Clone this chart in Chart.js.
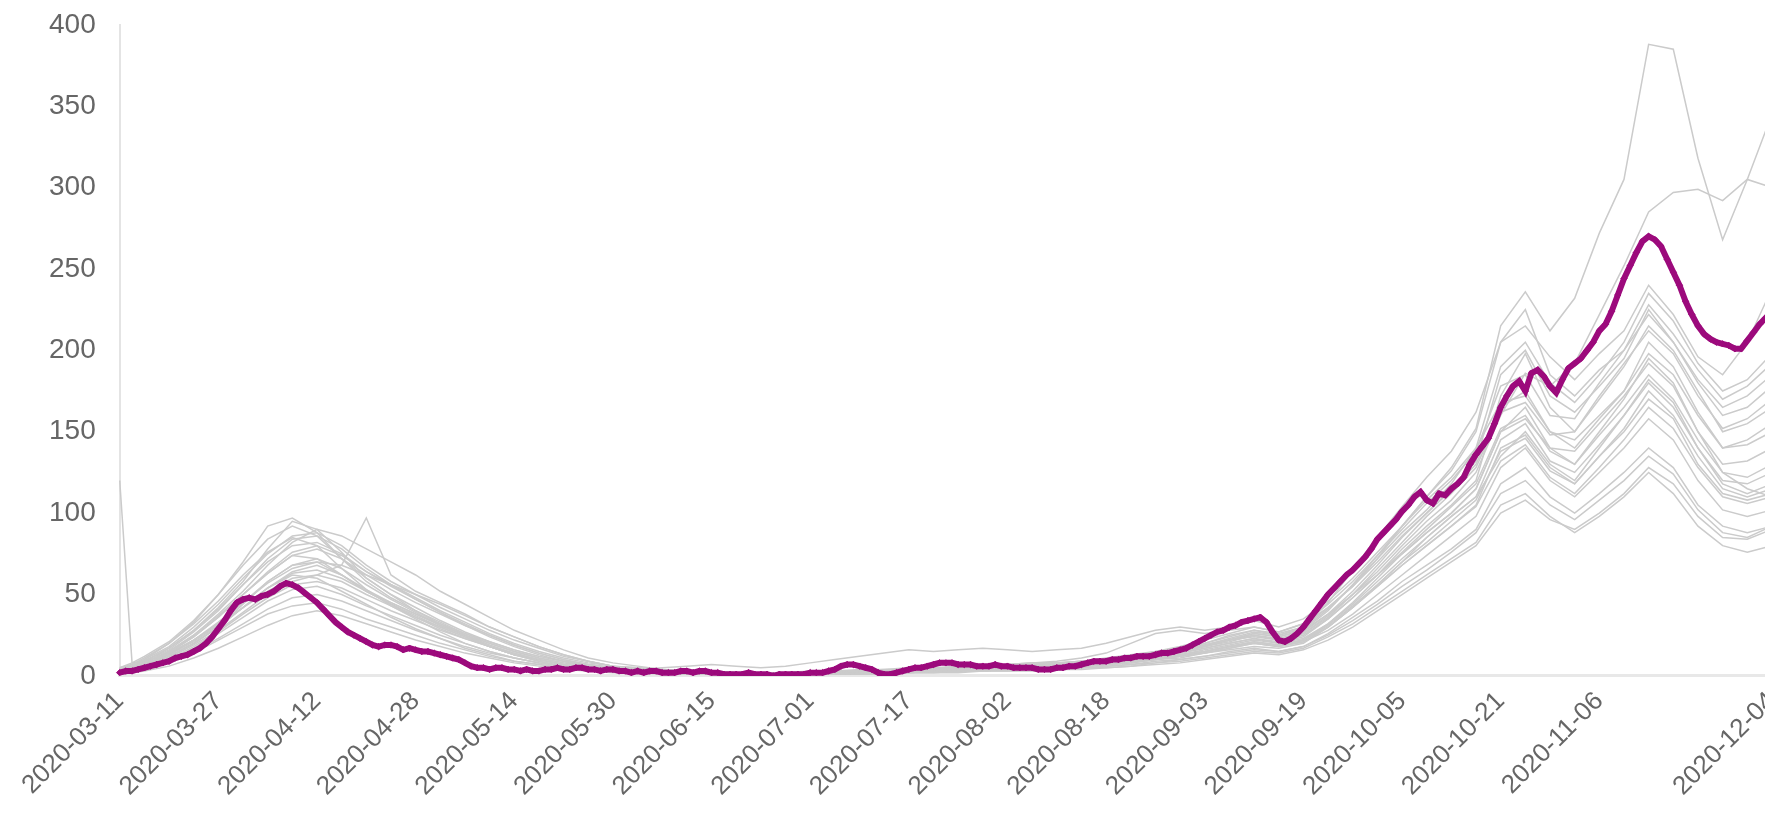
<!DOCTYPE html>
<html>
<head>
<meta charset="utf-8">
<script src="https://cdn.jsdelivr.net/npm/chart.js@4/dist/chart.umd.min.js"></script>
<style>
  html, body { margin: 0; padding: 0; background: #ffffff; overflow: hidden; }
  body { width: 1765px; height: 826px; position: relative; }
  #wrap { position: absolute; left: 10px; top: -16px; width: 1794px; height: 834px; }
</style>
</head>
<body>
<div id="wrap"><canvas id="c"></canvas></div>
<script>
// ---- categories (daily dates) ----
const startDate = '2020-03-11';
const dayCount = 269; // 2020-03-11 .. 2020-12-04
const tickLabels = ['2020-03-11','2020-03-27','2020-04-12','2020-04-28','2020-05-14','2020-05-30',
  '2020-06-15','2020-07-01','2020-07-17','2020-08-02','2020-08-18','2020-09-03','2020-09-19',
  '2020-10-05','2020-10-21','2020-11-06','2020-12-04'];

// ---- highlighted series (daily) ----
const highlight = [
  2, 3, 3, 4, 5, 6, 7, 8, 9, 11,
  12, 13, 15, 17, 20, 24, 29, 34, 40, 45,
  47, 48, 47, 49, 50, 52, 55, 57, 56, 54,
  51, 48, 45, 41, 37, 33, 30, 27, 25, 23,
  21, 19, 18, 19, 19, 18, 16, 17, 16, 15,
  15, 14, 13, 12, 11, 10, 8, 6, 5, 5,
  4, 5, 5, 4, 4, 3, 4, 3, 3, 4,
  4, 5, 4, 4, 5, 5, 4, 4, 3, 4,
  4, 3, 3, 2, 3, 2, 3, 3, 2, 2,
  2, 3, 3, 2, 3, 3, 2, 2, 1, 1,
  1, 1, 2, 1, 1, 1, 0, 1, 1, 1,
  1, 1, 2, 2, 2, 3, 4, 6, 7, 7,
  6, 5, 4, 2, 1, 1, 2, 3, 4, 5,
  5, 6, 7, 8, 8, 8, 7, 7, 7, 6,
  6, 6, 7, 6, 6, 5, 5, 5, 5, 4,
  4, 4, 5, 5, 6, 6, 7, 8, 9, 9,
  9, 10, 10, 11, 11, 12, 12, 12, 13, 14,
  14, 15, 16, 17, 19, 21, 23, 25, 27, 28,
  30, 31, 33, 34, 35, 36, 33, 27, 22, 21,
  23, 26, 30, 35, 40, 45, 50, 54, 58, 62,
  65, 69, 73, 78, 84, 88, 92, 96, 101, 105,
  110, 113, 108, 106, 112, 111, 115, 118, 122, 130,
  136, 141, 146, 155, 165, 172, 178, 181, 175, 186,
  188, 184, 178, 174, 182, 189, 192, 195, 200, 205,
  212, 216, 224, 234, 244, 252, 260, 267, 270, 268,
  264, 256, 248, 240, 230, 222, 215, 210, 207, 205,
  204, 203, 201, 201, 206, 211, 216, 220, 224
];

// ---- grey series: sampled on these day offsets ----
const greyDays = [0, 2, 4, 8, 12, 16, 20, 24, 28, 32, 36, 40, 44, 48, 52, 56, 60, 64, 68, 72, 76, 80,
  84, 88, 92, 96, 100, 104, 108, 112, 116, 120, 124, 128, 132, 136, 140, 144, 148, 152, 156, 160,
  164, 168, 172, 176, 180, 184, 188, 192, 196, 200, 204, 208, 212, 216, 220, 224, 228, 232, 236, 240,
  244, 248, 252, 256, 260, 264, 268];

const s01 = [3, 5,
  8, 15, 24, 36, 50, 63, 74, 72, 62, 52,
  44, 37, 30, 24, 18, 13, 10, 7, 5, 4,
  3, 3, 2, 2, 2, 1, 2, 2, 1, 2,
  3, 4, 4, 5, 5, 6, 6, 7, 8, 10,
  12, 14, 17, 20, 24, 28, 26, 30, 42, 55,
  72, 92, 110, 128, 152, 215, 236, 212, 232, 272,
  305, 388, 385, 318, 268, 305, 345];
const s02 = [2, 4,
  6, 12, 20, 30, 42, 54, 62, 60, 52, 44,
  36, 29, 23, 17, 13, 9, 7, 5, 4, 3,
  3, 2, 2, 1, 1, 1, 2, 2, 2, 3,
  3, 4, 4, 5, 5, 6, 7, 8, 9, 10,
  12, 14, 16, 19, 22, 24, 22, 26, 37, 50,
  64, 80, 95, 108, 125, 160, 186, 178, 192, 222,
  252, 285, 297, 299, 292, 305, 300];
const s03 = [5, 7,
  10, 20, 32, 46, 62, 76, 85, 80, 66, 53,
  43, 35, 27, 20, 15, 11, 8, 6, 4, 3,
  3, 2, 2, 2, 1, 2, 2, 2, 3, 3,
  3, 4, 4, 5, 5, 6, 6, 7, 8, 10,
  12, 15, 17, 20, 25, 28, 25, 30, 45, 65,
  85, 104, 122, 138, 162, 205, 215, 196, 182, 198,
  212, 240, 222, 196, 185, 205, 238];
const s04 = [4, 6,
  9, 17, 28, 42, 58, 78, 95, 90, 76, 60,
  50, 40, 32, 25, 18, 13, 9, 6, 4, 3,
  2, 2, 2, 1, 1, 1, 1, 2, 2, 3,
  2, 3, 3, 4, 4, 5, 6, 6, 7, 8,
  10, 12, 14, 17, 20, 23, 20, 24, 35, 48,
  62, 78, 92, 105, 120, 172, 198, 165, 150, 170,
  190, 215, 200, 175, 150, 155, 165];
const s05 = [3, 5,
  7, 14, 22, 32, 42, 52, 60, 62, 68, 97,
  62, 52, 45, 38, 30, 24, 18, 13, 9, 6,
  4, 3, 2, 2, 1, 1, 1, 1, 2, 2,
  2, 3, 3, 3, 4, 4, 5, 5, 6, 7,
  8, 10, 12, 14, 16, 18, 17, 20, 30, 42,
  56, 70, 85, 98, 110, 135, 150, 130, 120, 140,
  160, 180, 165, 140, 120, 118, 125];
const s06 = [120, 8,
  9, 14, 22, 32, 45, 58, 68, 70, 62, 52,
  44, 36, 30, 24, 18, 13, 9, 6, 4, 3,
  2, 2, 1, 1, 1, 1, 1, 2, 2, 2,
  2, 3, 3, 3, 4, 4, 5, 5, 6, 7,
  9, 11, 13, 15, 18, 20, 18, 22, 32, 45,
  60, 75, 88, 100, 115, 150, 165, 140, 130, 150,
  170, 195, 180, 150, 125, 115, 110];
const s07 = [4, 7,
  11, 20, 33, 50, 70, 92, 97, 88, 72, 58,
  48, 40, 33, 26, 20, 15, 11, 8, 6, 4,
  3, 3, 2, 2, 2, 2, 1, 1, 2, 2,
  3, 3, 4, 4, 5, 5, 6, 6, 7, 8,
  10, 12, 15, 18, 22, 25, 23, 27, 38, 52,
  68, 85, 100, 115, 132, 185, 200, 172, 162, 178,
  195, 225, 205, 180, 160, 165, 178];
const s08 = [3, 5,
  8, 15, 25, 38, 52, 68, 82, 90, 86, 78,
  70, 62, 52, 44, 36, 28, 22, 16, 11, 8,
  6, 4, 3, 3, 2, 2, 2, 2, 3, 3,
  4, 4, 5, 5, 6, 7, 7, 8, 9, 10,
  12, 14, 16, 19, 22, 26, 24, 28, 38, 50,
  62, 75, 88, 100, 115, 150, 158, 140, 138, 155,
  172, 192, 178, 150, 130, 132, 140];
const s09 = [2, 4,
  7, 14, 24, 36, 50, 64, 76, 80, 74, 64,
  56, 48, 40, 33, 26, 20, 15, 11, 8, 6,
  4, 3, 3, 2, 2, 2, 1, 2, 2, 2,
  3, 3, 4, 4, 4, 5, 5, 6, 6, 7,
  9, 10, 12, 15, 18, 21, 19, 22, 30, 42,
  55, 68, 80, 92, 105, 140, 148, 128, 118, 135,
  150, 170, 158, 130, 112, 108, 112];
const s10 = [2, 3,
  6, 12, 20, 30, 44, 58, 68, 72, 66, 56,
  47, 39, 31, 25, 19, 14, 10, 7, 5, 4,
  3, 2, 2, 2, 1, 1, 1, 1, 2, 2,
  2, 3, 3, 3, 4, 4, 5, 5, 6, 7,
  8, 10, 11, 14, 17, 20, 18, 21, 28, 38,
  50, 62, 74, 86, 98, 128, 140, 120, 110, 125,
  140, 158, 145, 120, 102, 98, 102];
const s11 = [3, 4,
  7, 13, 21, 31, 42, 54, 63, 65, 60, 52,
  45, 38, 32, 26, 21, 16, 12, 9, 6, 5,
  4, 3, 2, 2, 2, 1, 2, 2, 2, 2,
  3, 3, 3, 4, 4, 5, 5, 6, 7, 8,
  9, 11, 13, 16, 19, 22, 20, 23, 32, 44,
  58, 72, 85, 98, 110, 145, 155, 132, 125, 142,
  160, 182, 168, 140, 118, 112, 118];
const s12 = [1, 3,
  5, 10, 17, 26, 36, 46, 53, 55, 50, 43,
  37, 31, 25, 20, 15, 11, 8, 6, 4, 3,
  2, 2, 2, 1, 1, 1, 1, 1, 1, 2,
  2, 2, 3, 3, 3, 4, 4, 5, 5, 6,
  7, 9, 10, 12, 15, 17, 15, 18, 26, 36,
  46, 58, 68, 78, 90, 118, 128, 110, 100, 112,
  125, 140, 128, 105, 92, 88, 92];
const s13 = [1, 2,
  4, 8, 14, 22, 30, 38, 43, 45, 41, 35,
  30, 25, 20, 16, 12, 9, 7, 5, 4, 3,
  2, 2, 1, 1, 1, 1, 1, 1, 1, 2,
  2, 2, 2, 3, 3, 3, 4, 4, 5, 5,
  6, 8, 9, 11, 13, 15, 14, 17, 24, 32,
  42, 52, 62, 72, 82, 105, 112, 98, 88, 98,
  110, 125, 112, 92, 80, 76, 80];
const s14 = [4, 6,
  10, 18, 30, 44, 60, 75, 86, 88, 80, 68,
  58, 50, 42, 35, 28, 22, 17, 12, 9, 6,
  5, 4, 3, 3, 2, 2, 2, 3, 3, 4,
  4, 5, 5, 6, 6, 7, 8, 8, 9, 11,
  13, 15, 18, 22, 26, 30, 27, 32, 44, 58,
  74, 90, 106, 120, 138, 178, 185, 160, 158, 180,
  200, 222, 205, 182, 165, 172, 185];
const s15 = [3, 5,
  8, 15, 25, 37, 50, 63, 74, 78, 72, 62,
  53, 45, 38, 31, 25, 19, 14, 10, 7, 5,
  4, 5, 6, 7, 6, 5, 6, 8, 10, 12,
  14, 16, 15, 16, 17, 16, 15, 16, 17, 20,
  24, 28, 30, 28, 30, 34, 30, 35, 46, 60,
  76, 92, 108, 122, 140, 168, 172, 150, 145, 160,
  175, 198, 185, 160, 140, 145, 155];
const s16 = [2, 4,
  6, 12, 20, 30, 42, 54, 64, 68, 62, 53,
  45, 38, 31, 25, 20, 15, 11, 8, 6, 4,
  3, 3, 2, 2, 2, 2, 2, 2, 3, 3,
  3, 4, 4, 5, 6, 7, 8, 9, 11, 14,
  20, 26, 28, 26, 28, 30, 27, 32, 42, 55,
  70, 86, 100, 114, 130, 165, 175, 150, 140, 158,
  175, 205, 190, 162, 140, 142, 150];
const s17 = [2, 3,
  5, 10, 18, 27, 38, 48, 56, 58, 54, 47,
  40, 34, 28, 23, 18, 14, 10, 7, 5, 4,
  3, 2, 2, 2, 1, 1, 1, 1, 2, 2,
  2, 3, 3, 3, 4, 4, 5, 5, 6, 7,
  8, 10, 12, 14, 17, 20, 18, 21, 30, 42,
  55, 68, 80, 92, 104, 132, 142, 122, 112, 128,
  145, 165, 152, 128, 110, 106, 110];
const s18 = [3, 6,
  9, 17, 28, 41, 56, 70, 80, 82, 75, 64,
  55, 47, 39, 32, 25, 19, 14, 10, 7, 5,
  4, 3, 3, 2, 2, 2, 2, 2, 3, 3,
  3, 4, 4, 5, 5, 6, 7, 7, 8, 9,
  11, 13, 15, 18, 21, 25, 22, 26, 36, 50,
  66, 82, 98, 112, 128, 162, 168, 148, 150, 172,
  192, 212, 198, 172, 152, 158, 170];
const s19 = [1, 2,
  3, 6, 11, 17, 24, 31, 37, 40, 37, 32,
  27, 22, 18, 14, 11, 8, 6, 4, 3, 2,
  2, 1, 1, 1, 1, 1, 1, 1, 1, 1,
  1, 2, 2, 2, 3, 3, 3, 4, 4, 5,
  6, 7, 8, 10, 12, 14, 13, 16, 22, 30,
  40, 50, 60, 70, 80, 100, 108, 96, 90, 100,
  112, 128, 118, 98, 85, 84, 90];
const s20 = [5, 8,
  12, 21, 34, 50, 68, 84, 92, 86, 72, 60,
  50, 42, 34, 27, 21, 16, 12, 9, 6, 5,
  4, 3, 2, 2, 2, 2, 2, 2, 2, 3,
  3, 3, 4, 4, 5, 5, 6, 7, 8, 9,
  11, 13, 15, 18, 22, 26, 24, 28, 40, 56,
  72, 88, 102, 118, 140, 190, 205, 180, 168, 185,
  205, 235, 218, 192, 175, 182, 198];
const s21 = [1, 3,
  5, 9, 15, 23, 32, 41, 48, 50, 46, 40,
  34, 28, 23, 18, 14, 11, 8, 6, 4, 3,
  2, 2, 2, 1, 1, 1, 1, 1, 2, 2,
  2, 2, 3, 3, 3, 4, 4, 5, 5, 6,
  7, 8, 10, 12, 14, 16, 15, 18, 25, 34,
  44, 55, 65, 76, 88, 112, 120, 105, 96, 108,
  120, 135, 124, 102, 88, 85, 92];
const s22 = [2, 4,
  7, 13, 22, 33, 45, 57, 66, 70, 68, 62,
  56, 50, 44, 37, 30, 24, 18, 13, 9, 6,
  5, 4, 3, 3, 2, 2, 2, 2, 3, 3,
  3, 4, 4, 4, 5, 5, 6, 6, 7, 8,
  10, 12, 14, 17, 20, 23, 21, 25, 35, 48,
  62, 76, 90, 104, 118, 152, 160, 138, 130, 148,
  165, 185, 170, 145, 125, 122, 130];
const s23 = [2, 3,
  6, 11, 19, 28, 39, 50, 58, 62, 58, 50,
  43, 36, 29, 23, 18, 13, 10, 7, 5, 4,
  3, 2, 2, 2, 1, 1, 1, 2, 2, 2,
  2, 3, 3, 4, 4, 5, 5, 6, 6, 7,
  9, 11, 13, 15, 18, 21, 19, 22, 31, 43,
  56, 70, 82, 95, 108, 138, 146, 126, 118, 135,
  152, 175, 160, 135, 115, 110, 115];
const s24 = [3, 6,
  9, 16, 27, 40, 56, 72, 84, 86, 78, 66,
  56, 47, 39, 31, 24, 18, 13, 9, 7, 5,
  4, 3, 2, 2, 2, 2, 2, 2, 3, 3,
  3, 4, 4, 5, 5, 6, 7, 7, 8, 10,
  12, 14, 16, 19, 23, 27, 25, 29, 41, 56,
  74, 92, 110, 126, 150, 205, 225, 185, 172, 188,
  200, 228, 210, 188, 170, 178, 192];

const greyList = [s01, s02, s03, s04, s05, s06, s07, s08, s09, s10, s11, s12,
  s13, s14, s15, s16, s17, s18, s19, s20, s21, s22, s23, s24];

// ---- build category labels ----
const dates = [];
{
  const d0 = new Date(startDate + 'T00:00:00Z');
  for (let i = 0; i < dayCount; i++) {
    const d = new Date(d0.getTime() + i * 86400000);
    dates.push(d.toISOString().slice(0, 10));
  }
}

const datasets = [];
datasets.push({
  label: 'highlight',
  data: highlight,
  borderColor: '#9c0a7c',
  backgroundColor: '#9c0a7c',
  borderWidth: 6,
  pointRadius: 3.2,
  pointStyle: 'rectRot',
  pointBorderWidth: 1,
  pointBorderColor: '#9c0a7c',
  pointBackgroundColor: '#9c0a7c',
  tension: 0,
  order: 0
});
greyList.forEach((s, k) => {
  datasets.push({
    label: 'grey' + (k + 1),
    data: s.map((v, j) => ({ x: dates[greyDays[j]], y: v })),
    borderColor: '#cbcbcb',
    borderWidth: 1.5,
    pointRadius: 0,
    tension: 0,
    order: 1
  });
});

const fontFamily = "'Liberation Sans', Arial, sans-serif";

new Chart(document.getElementById('c'), {
  type: 'line',
  data: { labels: dates, datasets },
  options: {
    responsive: true,
    maintainAspectRatio: false,
    animation: false,
    layout: { padding: { top: 6, left: 15, right: 0, bottom: 6 } },
    plugins: { legend: { display: false }, tooltip: { enabled: false } },
    scales: {
      x: {
        type: 'category',
        offset: false,
        grid: { display: false, drawTicks: false },
        border: { display: true, color: '#e8e8e8', width: 3 },
        ticks: {
          autoSkip: false,
          minRotation: 45,
          maxRotation: 45,
          padding: 10,
          color: '#666666',
          font: { family: fontFamily, size: 26 },
          callback: function (value) {
            const lbl = this.getLabelForValue(value);
            return tickLabels.includes(lbl) ? lbl : null;
          }
        }
      },
      y: {
        min: 0,
        max: 400,
        grid: { display: false, drawTicks: false },
        border: { display: true, color: '#e4e4e4', width: 2 },
        ticks: {
          stepSize: 50,
          padding: 24,
          color: '#666666',
          font: { family: fontFamily, size: 28 }
        }
      }
    }
  }
});
</script>
</body>
</html>
